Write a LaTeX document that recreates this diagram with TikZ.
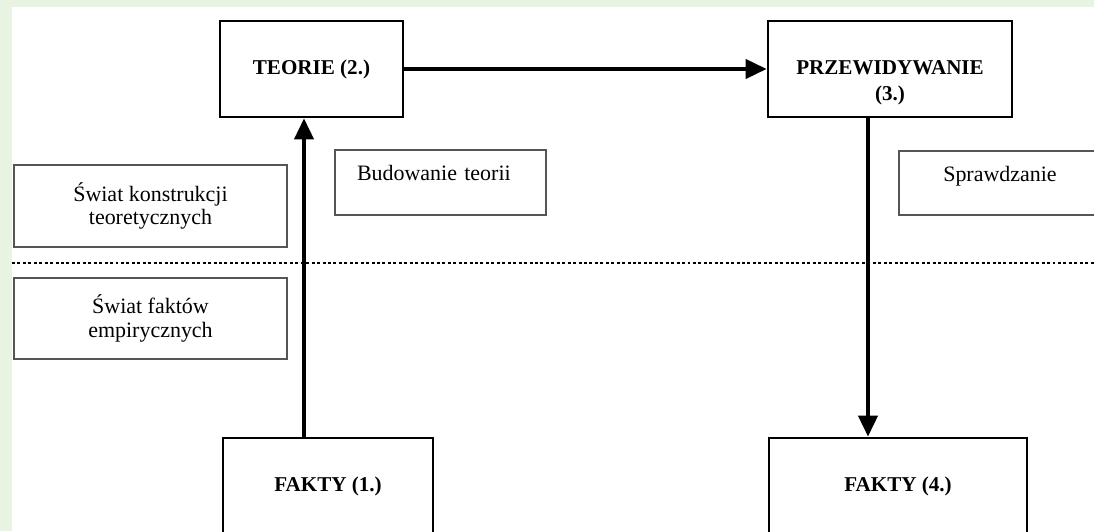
\documentclass[tikz,border=0pt]{standalone}
\usepackage{fontspec}
\setmainfont{Liberation Serif}
\usetikzlibrary{arrows.meta}
\definecolor{framegreen}{RGB}{233,243,225}
\definecolor{notegray}{RGB}{85,85,85}
\tikzset{
  mainbox/.style={draw, line width=1.6pt, align=center, minimum height=1.92cm, font=\fontsize{12}{15}\selectfont\bfseries, text height=8.5pt, text depth=2.5pt},
  notebox/.style={draw=notegray, line width=0.9pt, align=center, font=\fontsize{12.5}{13.5}\selectfont},
  flow/.style={-{Triangle[length=12pt, width=11pt]}, line width=2pt},
  divider/.style={line width=1.1pt, dash pattern=on 1.7pt off 1.4pt},
}

\begin{document}
\begin{tikzpicture}
    \useasboundingbox (0,0) rectangle (21.88,10.62);
    \fill[framegreen] (0,0) rectangle (21.88,10.62);
    \fill[white] (0.24,0) rectangle (21.88,10.48);
    % upper and lower world
    \node[notebox, minimum width=5.46cm, minimum height=1.64cm] (konstrukcje) at (3.01,6.50) {Świat konstrukcji\\teoretycznych};
    \node[notebox, minimum width=5.46cm, minimum height=1.62cm] (fakty) at (3.01,4.25) {Świat faktów\\empirycznych};
    \node[notebox, text width=3.34cm, inner xsep=0.44cm, align=left, minimum height=1.30cm, text height=9pt, text depth=11pt] (budowanie) at (8.81,6.97) {Budowanie teorii};
    \node[notebox, minimum width=4.04cm, minimum height=1.28cm, text height=9pt, text depth=11pt] (sprawdzanie) at (20.00,6.96) {Sprawdzanie};
    \draw[divider] (0.24,5.36) -- (21.88,5.36);
    % main chain
    \node[mainbox, minimum width=3.66cm] (teorie) at (6.23,9.24) {TEORIE (2.)};
    \node[mainbox, minimum width=4.88cm] (przew) at (17.80,9.24) {\begin{tabular}[t]{@{}c@{}}PRZEWIDYWANIE\\(3.)\end{tabular}};
    \node[mainbox, minimum width=4.20cm] (fakty1) at (6.56,0.90) {FAKTY (1.)};
    \node[mainbox, minimum width=5.16cm] (fakty4) at (17.96,0.90) {FAKTY (4.)};
    \draw[flow] ([xshift=-0.48cm]fakty1.north) -- ([xshift=-0.48cm]fakty1.north |- teorie.south);
    \draw[flow] (teorie.east) -- (przew.west);
    \draw[flow] ([xshift=-0.44cm]przew.south) -- ([xshift=-0.44cm]przew.south |- fakty4.north);
\end{tikzpicture}
\end{document}
